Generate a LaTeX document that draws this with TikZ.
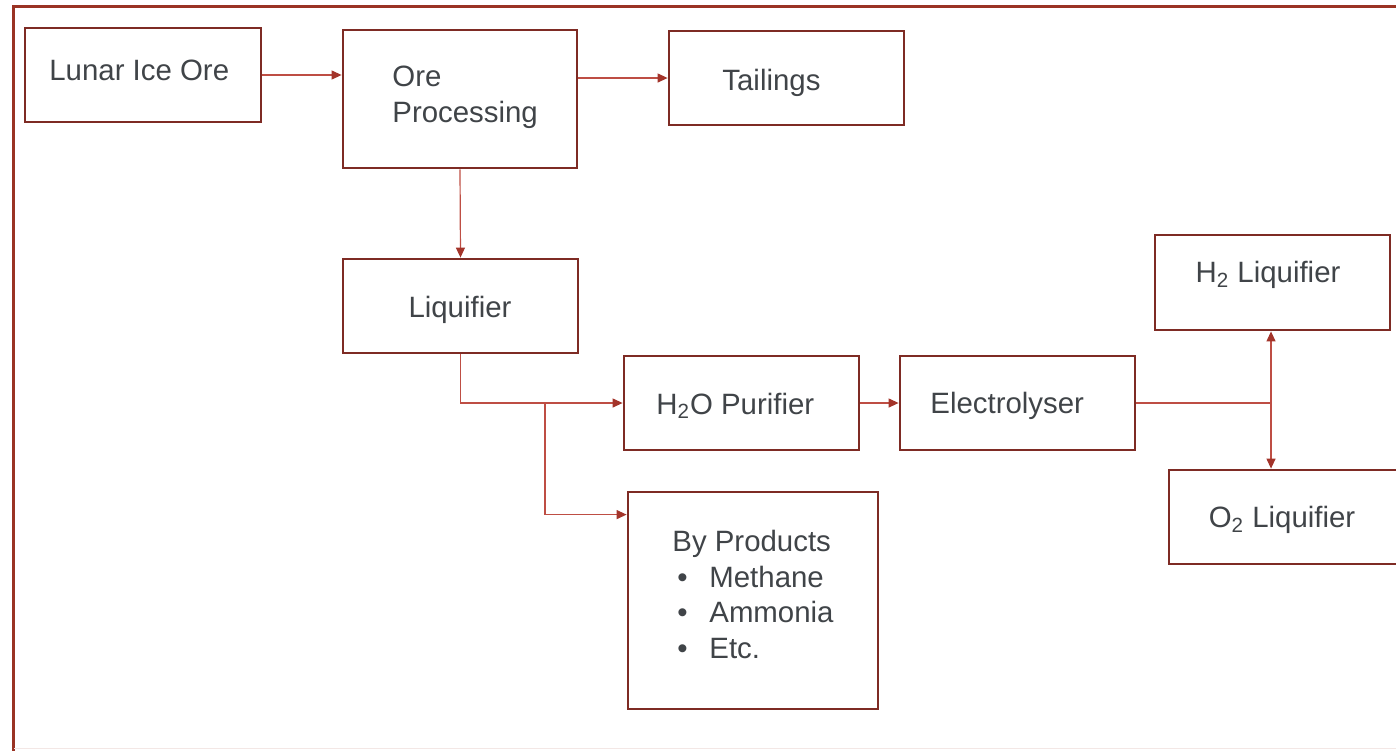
\documentclass[tikz,border=0pt]{standalone}
\usepackage{fontspec}
\setmainfont{Liberation Sans}
\usepackage{xcolor}
\usepackage{tikz}
\usetikzlibrary{arrows.meta,positioning}
\definecolor{framex}{HTML}{9A3324}
\definecolor{boxx}{HTML}{7E2B24}
\definecolor{linkx}{HTML}{BE4E44}
\definecolor{headx}{HTML}{A3342A}
\definecolor{inkx}{HTML}{404448}
\tikzset{
  ar/.style={-{Triangle[length=5pt,width=4.5pt,color=headx]},line width=0.6pt,linkx},
  box/.style={draw=boxx,line width=1.4pt,rectangle,inner sep=0pt,minimum width=117.5pt,minimum height=47pt},
  txt/.style={inner sep=0pt,text=inkx,font=\fontsize{14.7}{17.8}\selectfont,align=left}
}
\begin{document}
\begin{tikzpicture}[x=0.5pt,y=-0.5pt]
\useasboundingbox (0,0) rectangle (1396,750);
% outer frame
\draw[framex,line width=1.5pt] (13,760) -- (13,6) -- (1410,6);
\draw[framex!12,line width=0.8pt] (14,748.5) -- (1410,748.5);
% boxes
\node[box,minimum width=118pt] (lunar) at (143,75) {};
\node[box,minimum width=117pt,minimum height=69pt] (orep) at (460,99) {};
\node[box] (tail) at (786.5,78) {};
\node[box] (liq) at (460.5,306) {};
\node[box] (puri) at (741.5,403) {};
\node[box] (elec) at (1017.5,403) {};
\node[box,minimum height=47.5pt] (htwo) at (1272.5,282.5) {};
\node[box] (otwo) at (1286.5,517) {};
\node[box,minimum width=125pt,minimum height=108.5pt] (byp) at (753,600.5) {};
% texts
\node[txt,anchor=west] (t-lunar) at (49,70) {Lunar Ice Ore};
\node[txt,anchor=west] (t-orep) at (392,97) {Ore\\Processing};
\node[txt,anchor=west] (t-tail) at (722,83) {Tailings};
\node[txt] (t-liq) at (460,310) {Liquifier};
\node[txt,anchor=west] (t-puri) at (656,406) {H\textsubscript{2}O Purifier};
\node[txt,anchor=west] (t-elec) at (930,406) {Electrolyser};
\node[txt] (t-htwo) at (1268,275) {H\textsubscript{2} Liquifier};
\node[txt] (t-otwo) at (1282,520) {O\textsubscript{2} Liquifier};
\node[txt,anchor=west] (t-byp) at (672,594.5) {By Products\\
  \makebox[18.5pt][l]{\hspace{2.5pt}\textbullet}Methane\\
  \makebox[18.5pt][l]{\hspace{2.5pt}\textbullet}Ammonia\\
  \makebox[18.5pt][l]{\hspace{2.5pt}\textbullet}Etc.};
% connectors
\coordinate (split) at (545,403);
\coordinate (junc) at (1271,403);
\coordinate (byin) at ([yshift=-12pt]byp.north west);
\draw[ar] (lunar.east) -- (lunar.east -| orep.west);
\draw[ar] (tail.west -| orep.east) -- (tail.west);
\draw[ar] (orep.south) -- (liq.north);
\draw[ar] (liq.south) |- (puri.west);
\draw[ar] (split) |- (byin);
\draw[ar] (puri) -- (elec);
\draw[linkx,line width=0.6pt] (elec.east) -- (junc);
\draw[ar] (junc) -- (junc |- htwo.south);
\draw[ar] (junc) -- (junc |- otwo.north);
\end{tikzpicture}
\end{document}
